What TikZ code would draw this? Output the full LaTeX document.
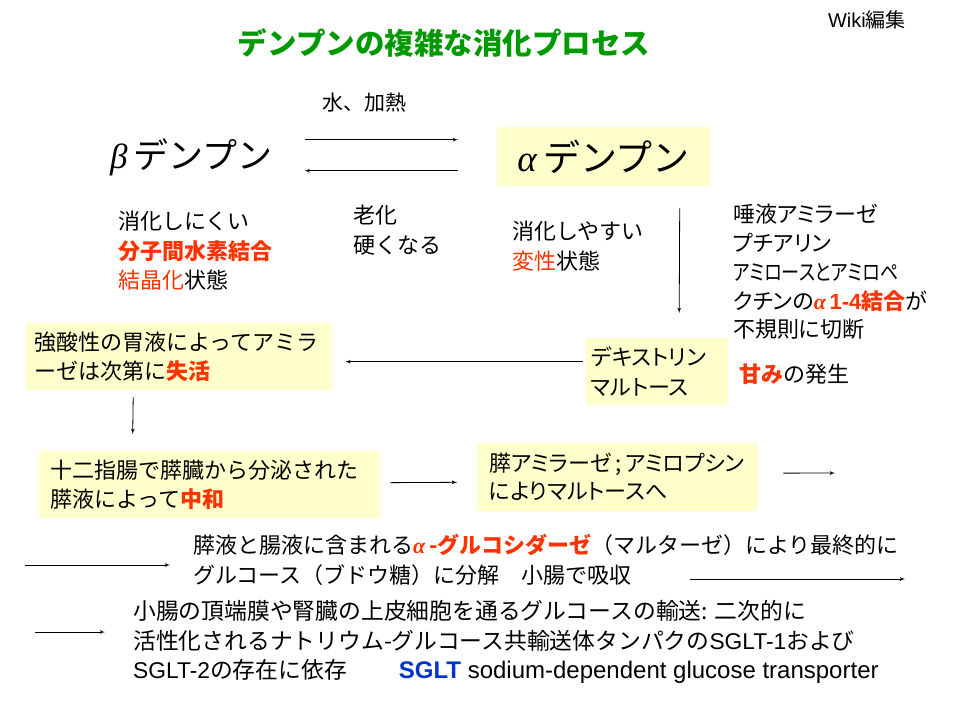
\documentclass[tikz,border=0pt]{standalone}
\usepackage{color}
\usepackage{amssymb}
\usepackage{amsmath}
\usepackage{fontspec}
\setmainfont[AutoFakeSlant=0.2]{Noto Sans CJK JP}
\newfontfamily\lat{Liberation Sans}
\newfontfamily\greek{Liberation Serif}
\usepackage{tikz}
\usetikzlibrary{arrows}
\definecolor{titlegreen}{RGB}{0,153,0}
\definecolor{hired}{RGB}{255,51,0}
\definecolor{boxyellow}{RGB}{255,255,204}
\definecolor{sgblue}{RGB}{0,51,204}
\newcommand{\hl}[1]{\textcolor{hired}{\bfseries #1}}
\newcommand{\hr}[1]{\textcolor{hired}{#1}}
\newcommand{\prop}{\addfontfeatures{RawFeature=+palt}}

\begin{document}
\begin{tikzpicture}[x=1pt,y=-1pt]
\tikzset{txt/.style = {inner sep=0pt, align=left, anchor=west, font=\fontsize{22}{29.5}\selectfont}}
\tikzset{box/.style = {txt, anchor=north west, fill=boxyellow, inner ysep=0pt}}
\tikzset{edge/.style = {->,> = latex', line width=0.8pt}}
\fill[white] (0,0) rectangle (960,720);
\useasboundingbox (0,0) rectangle (960,720);
% title
\node[txt, anchor=east, font=\fontsize{20}{22}\selectfont] (wiki) at (906,20) {{\lat Wiki}編集};
\node[txt, anchor=center, font=\fontsize{29.5}{32}\selectfont\bfseries, text=titlegreen] (title) at (444,43) {デンプンの複雑な消化プロセス};
% starch
\node[txt, font=\fontsize{35}{40}\selectfont] (beta) at (110,157) {{\greek\itshape β}\,デンプン};
\node[box, anchor=north west, align=center, minimum width=213pt, minimum height=59pt, font=\fontsize{37}{42}\selectfont] (alpha) at (497,127) {{\greek\itshape α}\,デンプン};
\node[txt, font=\fontsize{21}{24}\selectfont] (heat) at (322,103) {水、加熱};
\node[txt] (aging) at (353,230) {老化\\硬くなる};
\node[txt] (hard) at (118,251) {消化しにくい\\\hl{分子間水素結合}\\\hr{結晶化}状態};
\node[txt] (soft) at (512,246) {消化しやすい\\\hr{変性}状態};
\node[txt, font=\fontsize{22}{28.8}\selectfont\prop] (saliva) at (733,272) {唾液アミラーゼ\\プチアリン\\\scalebox{0.82}[1]{アミロースとアミロペ}\\クチンの\hl{{\greek\itshape α}\,{\lat 1-4}結合}が\\不規則に切断};
% boxes
\node[box, inner xsep=5pt, text width=132pt, minimum height=67pt, font=\fontsize{22}{29.5}\selectfont\prop] (dext) at (586,338) {デキストリン\\マルトース};
\node[txt] (sweet) at (739,374) {\hl{甘み}の発生};
\node[box, inner xsep=8pt, text width=290pt, minimum height=67pt] (acid) at (26,323) {強酸性の胃液によってアミラ\\ーゼは次第に\hl{失活}};
\node[box, inner xsep=11pt, text width=319pt, minimum height=67pt] (duo) at (39,451) {十二指腸で膵臓から分泌された\\膵液によって\hl{中和}};
\node[box, inner xsep=12pt, text width=257pt, minimum height=68pt, font=\fontsize{22}{28}\selectfont\prop] (pam) at (477,443) {膵アミラーゼ\,;\,アミロプシン\\によりマルトースへ};
% absorption
\node[txt] (glu) at (193,560) {膵液と腸液に含まれる\hl{{\greek\itshape α}\,-\itshape グルコシダーゼ}（マルターゼ）により最終的に\\グルコース（ブドウ糖）に分解\quad 小腸で吸収};
\node[txt, font=\fontsize{22.8}{29.5}\selectfont] (sglt) at (133,642) {小腸の頂端膜や腎臓の上皮細胞を通るグルコースの輸送: 二次的に\\活性化されるナトリウム-グルコース共輸送体タンパクの{\lat SGLT-1}および\\{\lat SGLT-2}の存在に依存\hspace{52pt}{\lat\fontsize{24}{29.5}\selectfont\textcolor{sgblue}{\bfseries SGLT} sodium-dependent glucose transporter}};
\coordinate (pend) at (835,473);
\coordinate (g1) at (25,565);
\coordinate (g2s) at (690,579);
\coordinate (g2e) at (905,579);
\coordinate (s1) at (35,632);
%edges
\draw[edge] ([yshift=17pt,xshift=32pt]beta.east |- alpha.west) -- ([yshift=17pt,xshift=-39pt]alpha.west);
\draw[edge] ([yshift=-14pt,xshift=-39pt]alpha.west) -- ([yshift=-14pt,xshift=32pt]beta.east |- alpha.west);
\draw[edge] ([xshift=76pt,yshift=-22pt]alpha.south) -- ([xshift=22pt,yshift=25pt]dext.north);
\draw[edge, shorten <=3pt, shorten >=13pt] ([yshift=10pt]dext.west) -- ([yshift=-5pt]acid.east);
\draw[edge] ([xshift=-46pt,yshift=-7pt]acid.south) -- ([xshift=-77pt,yshift=17pt]duo.north);
\draw[edge, shorten <=10pt, shorten >=20pt] ([yshift=2pt]duo.east) -- ([yshift=-5pt]pam.west);
\draw[edge, shorten <=25pt] ([yshift=4pt]pam.east) -- (pend);
\draw[edge, shorten >=23pt] (g1) -- ([yshift=-5pt]glu.west);
\draw[edge] (g2s) -- (g2e);
\draw[edge, shorten >=28pt] (s1) -- ([yshift=10pt]sglt.west);
\end{tikzpicture}
\end{document}
